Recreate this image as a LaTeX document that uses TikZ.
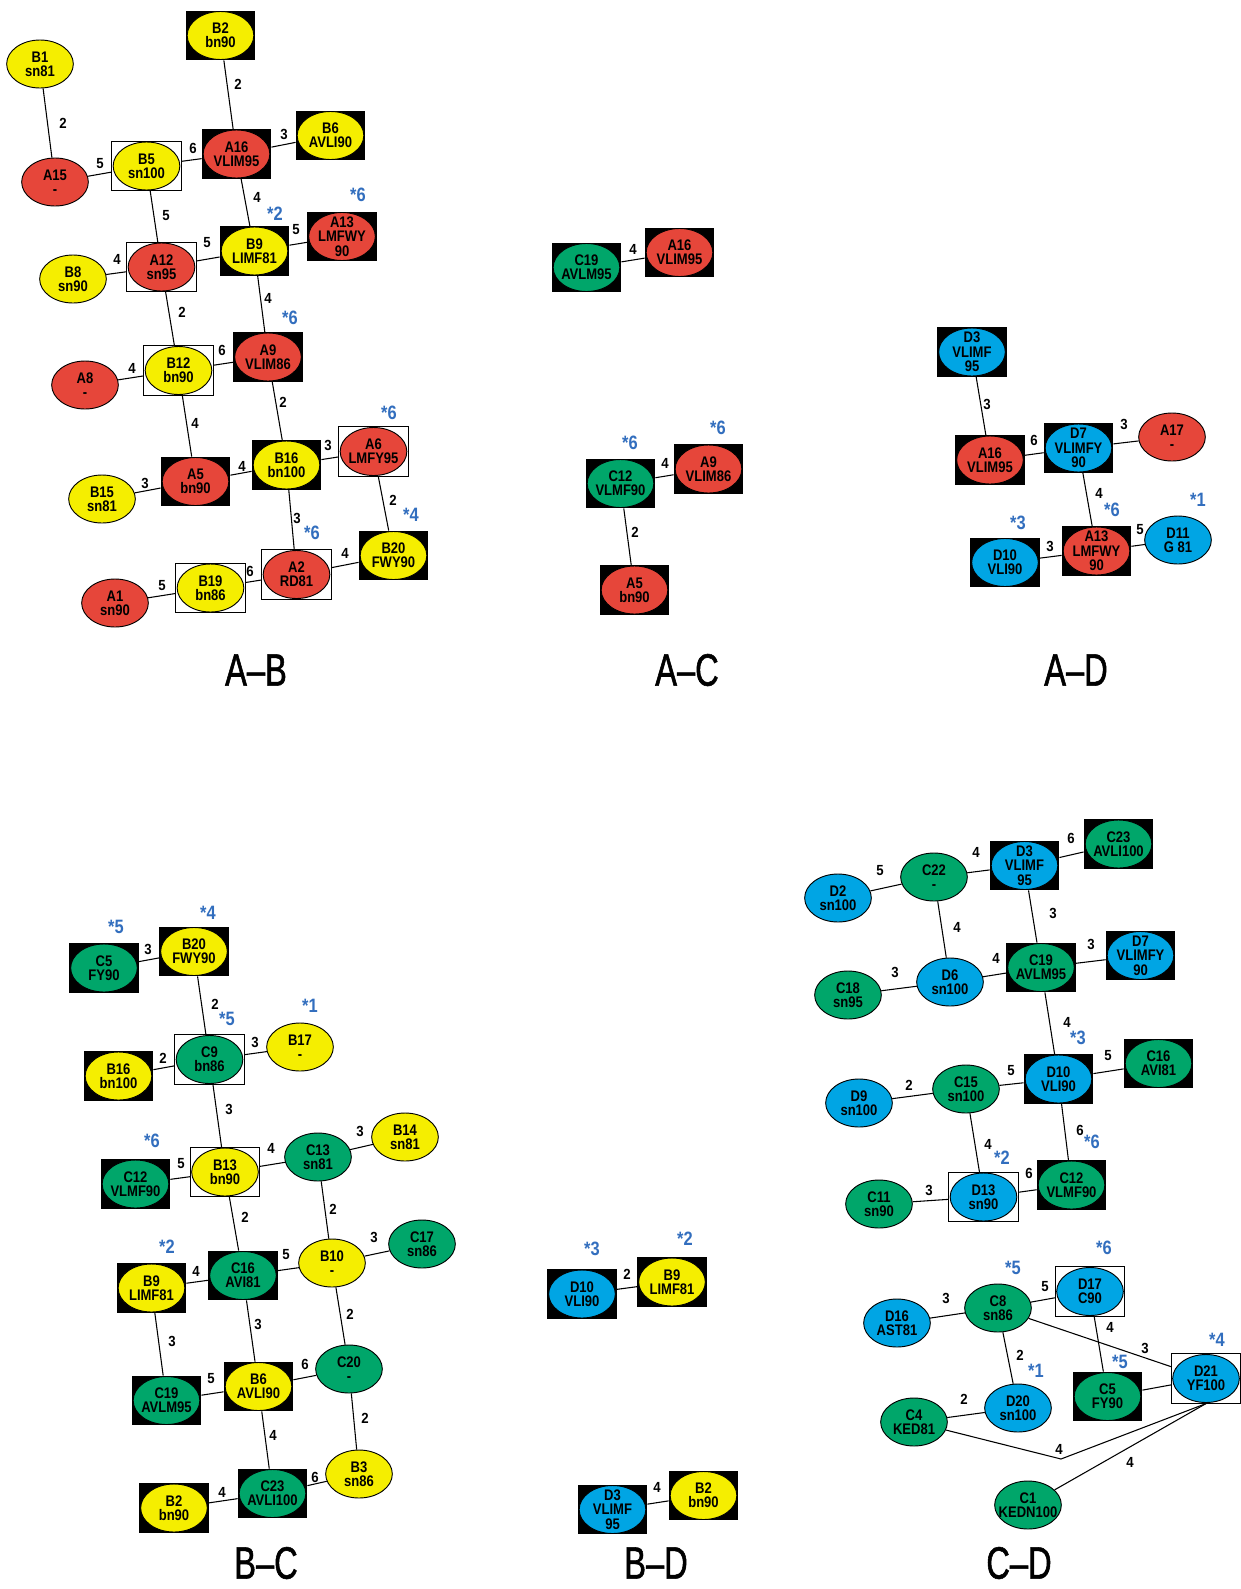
\documentclass[tikz,border=0pt]{standalone}
\usepackage{fontspec}
\usetikzlibrary{shapes.geometric}
\newfontfamily\nf[FakeStretch=0.85]{Liberation Sans}
\newfontfamily\ef[FakeStretch=0.9]{Liberation Sans}
\newfontfamily\tf[FakeStretch=0.72,FakeBold=1.2]{Liberation Sans}
\definecolor{cy}{RGB}{245,238,0}
\definecolor{cr}{RGB}{230,70,58}
\definecolor{cg}{RGB}{0,166,106}
\definecolor{cb}{RGB}{0,165,228}
\definecolor{sblue}{RGB}{50,110,190}
\tikzset{
 ell/.style={ellipse, draw=black, line width=0.7pt, minimum width=50pt, minimum height=36pt, inner sep=0pt},
 blk/.style={rectangle, fill=black, minimum width=52pt, minimum height=37pt, inner sep=0pt},
 wbx/.style={rectangle, draw=black, fill=white, line width=0.6pt, minimum width=52pt, minimum height=37pt, inner sep=0pt},
 txt/.style={font=\nf\bfseries\fontsize{11.5}{10.8}\selectfont, align=center, inner sep=0pt},
 elab/.style={font=\ef\bfseries\fontsize{11}{11}\selectfont, inner sep=0pt},
 blab/.style={font=\nf\bfseries\fontsize{14.5}{14.5}\selectfont, text=sblue, inner sep=0pt},
 ttl/.style={font=\tf\fontsize{34}{36}\selectfont, inner sep=0pt},
 edge/.style={draw=black, line width=0.8pt}
}
\newcommand\plainN[4]{\node[ell, fill=#3] (#1) at (#2) {}; \node[txt] (#1t) at (#2) {#4};}
\newcommand\blkN[4]{\node[blk] (#1) at (#2) {}; \node[ell, fill=#3] (#1e) at (#2) {}; \node[txt] (#1t) at (#2) {#4};}
\newcommand\boxN[4]{\node[wbx] (#1) at (#2) {}; \node[ell, fill=#3] (#1e) at (#2) {}; \node[txt] (#1t) at (#2) {#4};}
\newcommand\ED[4]{\draw[edge] (#1) -- (#2); \node[elab] at (#3) {#4};}
\newcommand\SL[2]{\node[blab] at (#1) {*#2};}
\begin{document}
\begin{tikzpicture}[x=0.75pt,y=-0.75pt]
\useasboundingbox[fill=white] (0,0) rectangle (1241,1589);
% ---------------- A-B
\plainN{abB1}{40,64}{cy}{B1\\sn81}
\blkN{abB2}{220.5,35.5}{cy}{B2\\bn90}
\plainN{abA15}{55,182}{cr}{A15\\-}
\boxN{abB5}{146.5,166}{cy}{B5\\sn100}
\blkN{abA16}{236.5,154}{cr}{A16\\VLIM95}
\blkN{abB6}{330.5,135.5}{cy}{B6\\AVLI90}
\blkN{abA13}{342,236.5}{cr}{A13\\LMFWY\\90}
\blkN{abB9}{254.5,251}{cy}{B9\\LIMF81}
\boxN{abA12}{161.5,267}{cr}{A12\\sn95}
\plainN{abB8}{73,279}{cy}{B8\\sn90}
\boxN{abB12}{178.5,370.5}{cy}{B12\\bn90}
\blkN{abA9}{268,357}{cr}{A9\\VLIM86}
\plainN{abA8}{85,385}{cr}{A8\\-}
\blkN{abA5}{195.5,481.5}{cr}{A5\\bn90}
\blkN{abB16}{286.5,465}{cy}{B16\\bn100}
\boxN{abA6}{373.5,451.5}{cr}{A6\\LMFY95}
\plainN{abB15}{102,499}{cy}{B15\\sn81}
\blkN{abB20}{393.5,555.5}{cy}{B20\\FWY90}
\boxN{abA2}{296.5,574.5}{cr}{A2\\RD81}
\boxN{abB19}{210.5,588}{cy}{B19\\bn86}
\plainN{abA1}{115,603}{cr}{A1\\sn90}
\ED{abB1}{abA15}{63,123}{2}
\ED{abB2}{abA16}{238,84}{2}
\ED{abA16}{abB6}{284,134}{3}
\ED{abB5}{abA16}{193,148}{6}
\ED{abA15}{abB5}{100,164}{5}
\ED{abB5}{abA12}{166,216}{5}
\ED{abA16}{abB9}{257,197}{4}
\ED{abB9}{abA13}{296,230}{5}
\ED{abA12}{abB9}{207,243}{5}
\ED{abB8}{abA12}{117,259}{4}
\ED{abA12}{abB12}{182,312}{2}
\ED{abB9}{abA9}{268,298}{4}
\ED{abB12}{abA9}{222,350}{6}
\ED{abA8}{abB12}{132,368}{4}
\ED{abA9}{abB16}{283,402}{2}
\ED{abB12}{abA5}{195,423}{4}
\ED{abB16}{abA6}{328,445}{3}
\ED{abB15}{abA5}{145,483}{3}
\ED{abA5}{abB16}{242,466}{4}
\ED{abA6}{abB20}{393,500}{2}
\ED{abB16}{abA2}{297,518}{3}
\ED{abA2}{abB20}{345,553}{4}
\ED{abB19}{abA2}{250,571}{6}
\ED{abA1}{abB19}{162,586}{5}
\SL{275,214}{2}
\SL{358,195}{6}
\SL{290,318}{6}
\SL{389,413}{6}
\SL{411,515}{4}
\SL{312,533}{6}
\node[ttl] (tAB) at (256,670) {A–B};
% ---------------- A-C
\blkN{acC19}{586.5,267.5}{cg}{C19\\AVLM95}
\blkN{acA16}{679.5,252.5}{cr}{A16\\VLIM95}
\blkN{acC12}{620.5,483.5}{cg}{C12\\VLMF90}
\blkN{acA9}{708.5,469}{cr}{A9\\VLIM86}
\blkN{acA5}{634.5,590}{cr}{A5\\bn90}
\ED{acC19}{acA16}{633,249}{4}
\ED{acC12}{acA9}{665,463}{4}
\ED{acC12}{acA5}{635,532}{2}
\SL{630,443}{6}
\SL{718,428}{6}
\node[ttl] (tAC) at (687,670) {A–C};
% ---------------- A-D
\blkN{adD3}{972,352}{cb}{D3\\VLIMF\\95}
\blkN{adA16}{990,460}{cr}{A16\\VLIM95}
\blkN{adD7}{1078.5,448}{cb}{D7\\VLIMFY\\90}
\plainN{adA17}{1172,437}{cr}{A17\\-}
\blkN{adA13}{1096.5,551}{cr}{A13\\LMFWY\\90}
\blkN{adD10}{1005,562.5}{cb}{D10\\VLI90}
\plainN{adD11}{1178,540}{cb}{D11\\G 81}
\ED{adD3}{adA16}{987,404}{3}
\ED{adA16}{adD7}{1034,440}{6}
\ED{adD7}{adA17}{1124,424}{3}
\ED{adD7}{adA13}{1099,493}{4}
\ED{adD10}{adA13}{1050,546}{3}
\ED{adA13}{adD11}{1140,530}{5}
\SL{1112,510}{6}
\SL{1018,523}{3}
\SL{1198,500}{1}
\node[ttl] (tAD) at (1076,670) {A–D};
% ---------------- B-C
\blkN{bcC5}{104,968}{cg}{C5\\FY90}
\blkN{bcB20}{194,951.5}{cy}{B20\\FWY90}
\boxN{bcC9}{209.5,1059.5}{cg}{C9\\bn86}
\plainN{bcB17}{300,1047}{cy}{B17\\-}
\blkN{bcB16}{118.5,1076}{cy}{B16\\bn100}
\boxN{bcB13}{225,1172}{cy}{B13\\bn90}
\plainN{bcC13}{318,1157}{cg}{C13\\sn81}
\plainN{bcB14}{405,1137}{cy}{B14\\sn81}
\blkN{bcC12}{135.5,1184}{cg}{C12\\VLMF90}
\blkN{bcC16}{243,1275.5}{cg}{C16\\AVI81}
\plainN{bcB10}{332,1263}{cy}{B10\\-}
\plainN{bcC17}{422,1244}{cg}{C17\\sn86}
\blkN{bcB9}{151.5,1288}{cy}{B9\\LIMF81}
\blkN{bcC19}{166.5,1400.5}{cg}{C19\\AVLM95}
\blkN{bcB6}{258.5,1386.5}{cy}{B6\\AVLI90}
\plainN{bcC20}{349,1369}{cg}{C20\\-}
\plainN{bcB3}{359,1474}{cy}{B3\\sn86}
\blkN{bcC23}{272.5,1493.5}{cg}{C23\\AVLI100}
\blkN{bcB2}{174,1508}{cy}{B2\\bn90}
\ED{bcC5}{bcB20}{148,949}{3}
\ED{bcB20}{bcC9}{215,1004}{2}
\ED{bcC9}{bcB17}{255,1042}{3}
\ED{bcB16}{bcC9}{163,1058}{2}
\ED{bcC9}{bcB13}{229,1109}{3}
\ED{bcB13}{bcC13}{271,1148}{4}
\ED{bcC13}{bcB14}{360,1131}{3}
\ED{bcC12}{bcB13}{181,1164}{5}
\ED{bcB13}{bcC16}{245,1217}{2}
\ED{bcC13}{bcB10}{333,1209}{2}
\ED{bcC16}{bcB10}{286,1255}{5}
\ED{bcB10}{bcC17}{374,1237}{3}
\ED{bcB9}{bcC16}{196,1271}{4}
\ED{bcB9}{bcC19}{172,1341}{3}
\ED{bcC16}{bcB6}{258,1324}{3}
\ED{bcB10}{bcC20}{350,1314}{2}
\ED{bcC19}{bcB6}{211,1379}{5}
\ED{bcB6}{bcC20}{305,1364}{6}
\ED{bcC20}{bcB3}{365,1418}{2}
\ED{bcB6}{bcC23}{273,1435}{4}
\ED{bcC23}{bcB3}{315,1477}{6}
\ED{bcB2}{bcC23}{222,1492}{4}
\SL{116,927}{5}
\SL{208,913}{4}
\SL{227,1019}{5}
\SL{310,1006}{1}
\SL{152,1141}{6}
\SL{167,1247}{2}
\node[ttl] (tBC) at (266,1563) {B–C};
% ---------------- B-D
\blkN{bdD10}{582,1294}{cb}{D10\\VLI90}
\blkN{bdB9}{672,1282}{cy}{B9\\LIMF81}
\blkN{bdD3}{612.5,1509.5}{cb}{D3\\VLIMF\\95}
\blkN{bdB2}{703.5,1495.5}{cy}{B2\\bn90}
\ED{bdD10}{bdB9}{627,1274}{2}
\ED{bdD3}{bdB2}{657,1487}{4}
\SL{592,1249}{3}
\SL{685,1239}{2}
\node[ttl] (tBD) at (656,1563) {B–D};
% ---------------- C-D
\blkN{cdD3}{1024.5,865.5}{cb}{D3\\VLIMF\\95}
\blkN{cdC23}{1118.5,844}{cg}{C23\\AVLI100}
\plainN{cdC22}{934,877}{cg}{C22\\-}
\plainN{cdD2}{838,898}{cb}{D2\\sn100}
\plainN{cdD6}{950,982}{cb}{D6\\sn100}
\blkN{cdC19}{1041,967.5}{cg}{C19\\AVLM95}
\blkN{cdD7}{1140.5,955.5}{cb}{D7\\VLIMFY\\90}
\plainN{cdC18}{848,995}{cg}{C18\\sn95}
\blkN{cdD10}{1058.5,1079}{cb}{D10\\VLI90}
\blkN{cdC16}{1158.5,1063.5}{cg}{C16\\AVI81}
\plainN{cdC15}{966,1089}{cg}{C15\\sn100}
\plainN{cdD9}{859,1103}{cb}{D9\\sn100}
\boxN{cdD13}{983.5,1197}{cb}{D13\\sn90}
\blkN{cdC12}{1071.5,1185}{cg}{C12\\VLMF90}
\plainN{cdC11}{879,1204}{cg}{C11\\sn90}
\boxN{cdD17}{1090,1291.5}{cb}{D17\\C90}
\plainN{cdC8}{998,1308}{cg}{C8\\sn86}
\plainN{cdD16}{897,1323}{cb}{D16\\AST81}
\boxN{cdD21}{1206,1378.5}{cb}{D21\\YF100}
\plainN{cdD20}{1018,1408}{cb}{D20\\sn100}
\blkN{cdC5}{1107.5,1396.5}{cg}{C5\\FY90}
\plainN{cdC4}{914,1422}{cg}{C4\\KED81}
\plainN{cdC1}{1028,1505}{cg}{C1\\KEDN100}
\ED{cdD3}{cdC23}{1071,838}{6}
\ED{cdC22}{cdD3}{976,852}{4}
\ED{cdD2}{cdC22}{880,871}{5}
\ED{cdC22}{cdD6}{957,927}{4}
\ED{cdD3}{cdC19}{1053,913}{3}
\ED{cdD6}{cdC19}{996,958}{4}
\ED{cdC19}{cdD7}{1091,944}{3}
\ED{cdC18}{cdD6}{895,972}{3}
\ED{cdC19}{cdD10}{1067,1022}{4}
\ED{cdD10}{cdC16}{1108,1056}{5}
\ED{cdC15}{cdD10}{1011,1071}{5}
\ED{cdD9}{cdC15}{909,1085}{2}
\ED{cdC15}{cdD13}{988,1144}{4}
\ED{cdD10}{cdC12}{1080,1130}{6}
\ED{cdD13}{cdC12}{1029,1173}{6}
\ED{cdC11}{cdD13}{929,1190}{3}
\ED{cdC8}{cdD17}{1045,1287}{5}
\ED{cdD16}{cdC8}{946,1298}{3}
\ED{cdD17}{cdC5}{1110,1327}{4}
\ED{cdC8}{cdD21}{1145,1348}{3}
\ED{cdC8}{cdD20}{1020,1355}{2}
\ED{cdC4}{cdD20}{964,1399}{2}
\draw[edge] (cdC5) -- (cdD21);
\coordinate (cdK) at (1061,1459);
\draw[edge] (cdC4) -- (cdK) -- (cdD21.south);
\node[elab] at (1059,1449) {4};
\draw[edge] (cdC1) -- (cdD21.south);
\node[elab] at (1130,1462) {4};
\SL{1078,1038}{3}
\SL{1002,1158}{2}
\SL{1092,1142}{6}
\SL{1104,1248}{6}
\SL{1013,1268}{5}
\SL{1217,1340}{4}
\SL{1036,1371}{1}
\SL{1120,1362}{5}
\node[ttl] (tCD) at (1019,1563) {C–D};
\end{tikzpicture}
\end{document}
